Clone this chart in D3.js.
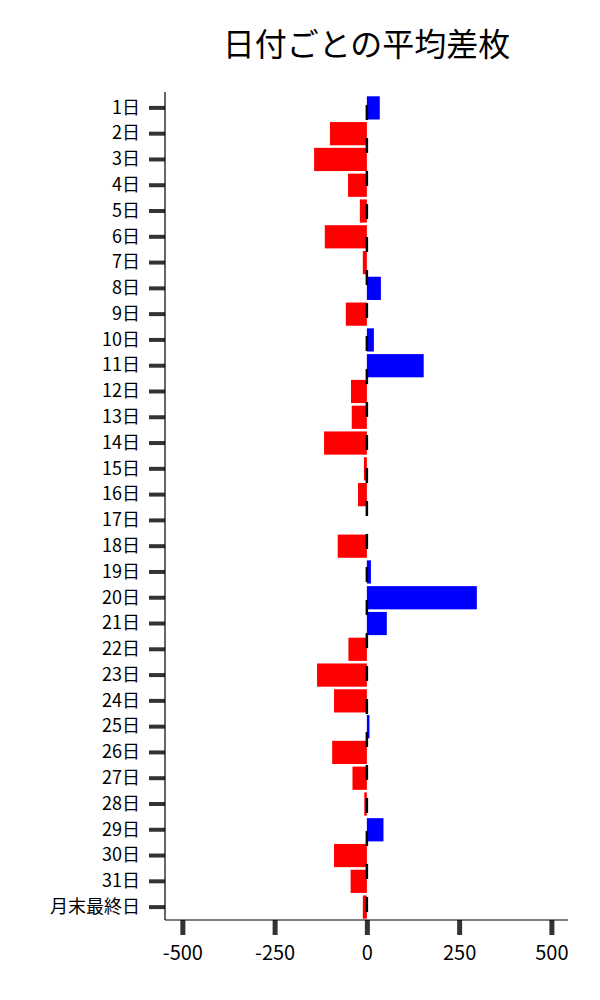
<!DOCTYPE html>
<html lang="ja">
<head>
<meta charset="utf-8">
<title>日付ごとの平均差枚</title>
<script src="https://cdn.jsdelivr.net/npm/d3@7"></script>
<style>
body { margin: 0; background: #fff; }
text { font-family: "Noto Sans CJK JP", "Noto Sans", sans-serif; fill: #000; }
.tick text { font-size: 20px; }
.yaxis .tick text { font-size: 18px; }
.title { font-size: 32px; }
</style>
</head>
<body>
<script>
// data
var days = ["1日","2日","3日","4日","5日","6日","7日","8日","9日","10日",
            "11日","12日","13日","14日","15日","16日","17日","18日","19日","20日",
            "21日","22日","23日","24日","25日","26日","27日","28日","29日","30日",
            "31日","月末最終日"];
var diffs = [35, -100, -143, -51, -19, -114, -11, 38, -57, 19,
             154, -43, -41, -116, -8, -24, 0, -79, 11, 298,
             54, -50, -135, -89, 7, -94, -39, -7, 45, -89,
             -44, -11];
var xTicks = [-500, -250, 0, 250, 500];

var w = 600, h = 1000;
var mLeft = 165, mRight = 568, mTop = 92, mBottom = 920;

var svg = d3.select("body").append("svg")
    .attr("width", w)
    .attr("height", h);

var x = d3.scaleLinear().domain([-547, 545]).range([mLeft, mRight]);
var y = d3.scaleBand().domain(days).range([mTop + 3, mBottom]).paddingInner(0.1).paddingOuter(0.05);

// bars
svg.selectAll(".bar")
    .data(days)
    .enter().append("rect")
    .attr("class", "bar")
    .attr("x", function(d, i) { return x(Math.min(0, diffs[i])); })
    .attr("y", function(d) { return y(d); })
    .attr("width", function(d, i) { return Math.abs(x(diffs[i]) - x(0)); })
    .attr("height", y.bandwidth())
    .attr("fill", function(d, i) { return diffs[i] >= 0 ? "#0000ff" : "#ff0000"; });

// dashed zero line
svg.append("line")
    .attr("x1", x(0)).attr("x2", x(0))
    .attr("y1", mTop + 13).attr("y2", mBottom)
    .attr("stroke", "#000")
    .attr("stroke-width", 2.5)
    .attr("stroke-dasharray", "15,18");

// y axis
var yAxis = svg.append("g")
    .attr("class", "yaxis")
    .attr("transform", "translate(" + mLeft + ",0)")
    .call(d3.axisLeft(y).tickSize(16).tickPadding(9));
yAxis.select(".domain").remove();
yAxis.selectAll(".tick line").attr("stroke", "#333").attr("stroke-width", 4);
svg.append("line")
    .attr("x1", mLeft).attr("x2", mLeft)
    .attr("y1", mTop).attr("y2", mBottom)
    .attr("stroke", "#000").attr("stroke-width", 1.2);

// x axis
var xAxis = svg.append("g")
    .attr("transform", "translate(0," + mBottom + ")")
    .call(d3.axisBottom(x).tickValues(xTicks).tickSize(15).tickPadding(11)
        .tickFormat(function(d) { return String(d); }));
xAxis.select(".domain").remove();
xAxis.selectAll(".tick line").attr("stroke", "#333").attr("stroke-width", 5);
svg.append("line")
    .attr("x1", mLeft).attr("x2", mRight)
    .attr("y1", mBottom).attr("y2", mBottom)
    .attr("stroke", "#000").attr("stroke-width", 1.2);

// title
svg.append("text")
    .attr("class", "title")
    .attr("x", (mLeft + mRight) / 2)
    .attr("y", 56)
    .attr("text-anchor", "middle")
    .text("日付ごとの平均差枚");
</script>
</body>
</html>
